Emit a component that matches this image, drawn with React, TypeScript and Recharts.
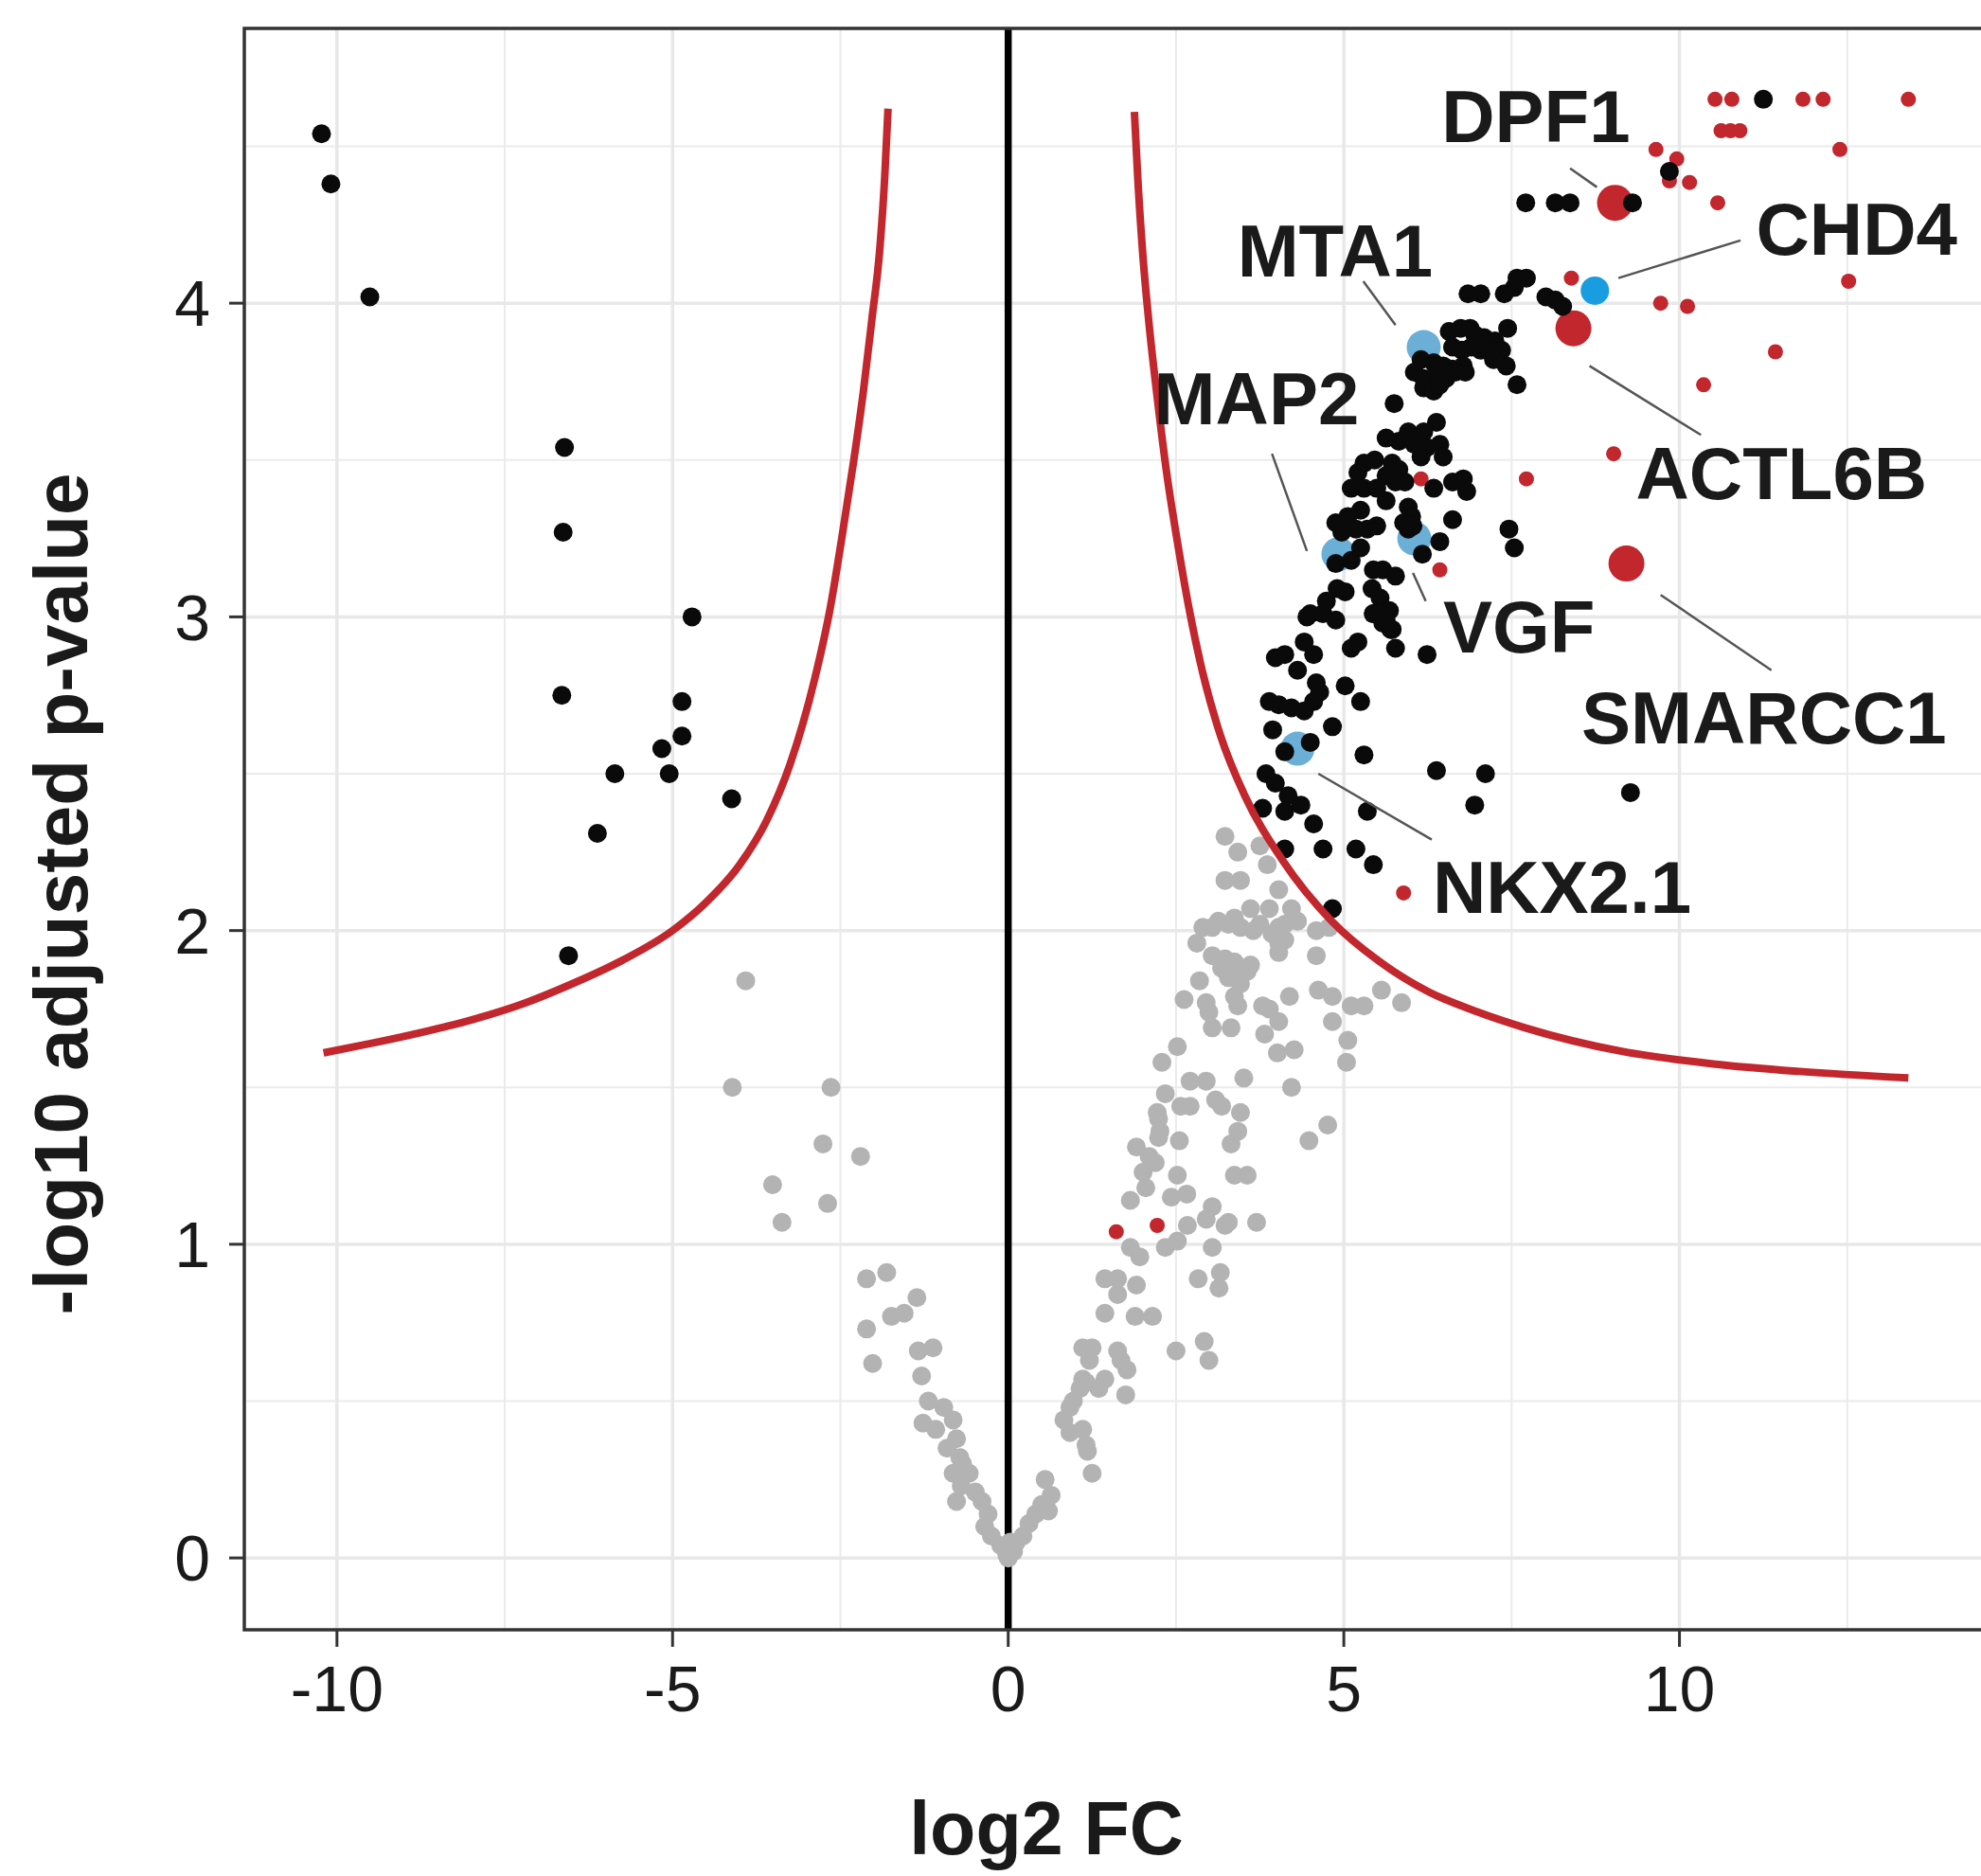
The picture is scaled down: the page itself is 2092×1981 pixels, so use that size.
import React from "react";
import {
  ComposedChart,
  Scatter,
  Line,
  XAxis,
  YAxis,
  ReferenceLine,
  ReferenceArea,
} from "recharts";

// Volcano plot: log2 FC x -log10 adjusted p-value, with the threshold curve
// and the labelled chromatin-remodelling genes.

const FONT = "'Liberation Sans', Arial, Helvetica, sans-serif";

const xTicks = [-10, -5, 0, 5, 10];
const yTicks = [0, 1, 2, 3, 4];
const gridMajorX = [-10, -5, 0, 5, 10];
const gridMinorX = [-7.5, -2.5, 2.5, 7.5, 12.5];
const gridMajorY = [0, 1, 2, 3, 4];
const gridMinorY = [0.5, 1.5, 2.5, 3.5, 4.5];

// not significant
const grayPts: [number, number][] = [
  [3.23, 2.3], [3.42, 2.25], [3.75, 2.27], [3.86, 2.21], [3.23, 2.16], [3.46, 2.16],
  [4.03, 2.13], [3.61, 2.07], [3.89, 2.07], [4.22, 2.07], [4.31, 2.03], [3.04, 2.01],
  [3.28, 2.02], [2.81, 1.96], [3.46, 2.01], [3.65, 2.0], [4.03, 2.01], [4.12, 1.97],
  [4.03, 1.93], [4.59, 2.0], [4.78, 2.01], [3.04, 1.92], [3.23, 1.91], [3.37, 1.9],
  [3.61, 1.89], [3.37, 1.86], [3.46, 1.83], [4.59, 1.92], [2.85, 1.84], [2.62, 1.78],
  [2.95, 1.77], [2.99, 1.74], [3.37, 1.79], [3.42, 1.76], [3.79, 1.76], [3.89, 1.75],
  [4.19, 1.79], [4.62, 1.81], [4.83, 1.79], [5.11, 1.76], [5.3, 1.76], [5.56, 1.81],
  [5.86, 1.77], [3.04, 1.69], [3.32, 1.69], [3.82, 1.67], [4.03, 1.71], [4.83, 1.71],
  [5.06, 1.65], [5.04, 1.58], [4.01, 1.61], [4.26, 1.62], [2.52, 1.63], [2.29, 1.58],
  [3.51, 1.53], [4.22, 1.5], [2.71, 1.52], [2.95, 1.52], [3.09, 1.46], [3.18, 1.44],
  [2.34, 1.48], [2.57, 1.44], [2.71, 1.44], [2.24, 1.4], [3.46, 1.42], [3.42, 1.36],
  [3.32, 1.32], [4.76, 1.38], [4.48, 1.33], [2.24, 1.34], [2.1, 1.28], [2.55, 1.33],
  [1.91, 1.31], [2.01, 1.23], [2.52, 1.22], [3.37, 1.22], [3.56, 1.22], [1.82, 1.14],
  [2.05, 1.18], [2.43, 1.15], [2.66, 1.16], [3.04, 1.12], [2.95, 1.08], [3.28, 1.07],
  [3.7, 1.07], [3.18, 1.88], [3.56, 1.87], [3.28, 1.85], [2.9, 2.01], [3.13, 2.03],
  [3.37, 2.04], [3.75, 2.02], [3.93, 1.99], [4.12, 2.02], [4.03, 1.96], [2.22, 1.42],
  [2.26, 1.36], [2.19, 1.26],
  [-2.11, 0.89], [-1.81, 0.91], [-1.36, 0.83], [-1.74, 0.77], [-1.55, 0.78], [-2.11, 0.73],
  [-2.02, 0.62], [-1.34, 0.66], [-1.12, 0.67], [-1.29, 0.58], [-1.19, 0.5], [-0.96, 0.48],
  [-0.82, 0.44], [-1.27, 0.43], [-1.08, 0.41], [-0.77, 0.38], [-0.91, 0.35], [-0.72, 0.32],
  [-0.68, 0.3], [-0.82, 0.27], [-0.58, 0.27], [-0.7, 0.23], [-0.77, 0.18], [-0.49, 0.21],
  [-0.39, 0.18], [-0.3, 0.14], [-0.35, 0.1], [-0.25, 0.07], [-0.11, 0.04], [-0.02, 0.01],
  [0.08, 0.02], [0.0, 0.0], [-0.05, 0.03], [0.03, 0.05],
  [0.12, 0.05], [0.22, 0.07], [0.31, 0.11], [0.41, 0.14], [0.5, 0.17], [0.55, 0.25],
  [0.64, 0.2], [0.6, 0.15],
  [0.83, 0.44], [0.92, 0.48], [0.97, 0.5], [1.07, 0.54], [1.11, 0.57], [1.16, 0.56],
  [1.44, 0.57], [1.35, 0.54], [0.92, 0.4], [1.11, 0.41], [1.16, 0.36], [1.18, 0.34],
  [1.25, 0.27], [1.11, 0.67], [1.25, 0.67], [1.21, 0.63], [1.63, 0.66], [1.68, 0.63],
  [1.77, 0.6], [1.75, 0.52], [1.44, 0.78], [1.44, 0.89], [1.63, 0.89], [1.63, 0.84],
  [1.91, 0.87], [1.89, 0.77], [2.15, 0.77], [2.5, 0.66], [2.92, 0.69], [2.99, 0.63],
  [2.83, 0.89], [3.16, 0.91], [3.14, 0.86], [3.04, 0.99], [1.82, 0.99], [1.96, 0.96],
  [2.34, 0.99], [2.52, 1.01], [2.67, 1.06], [3.23, 1.06],
  [-3.91, 1.84], [-4.11, 1.5], [-2.64, 1.5], [-2.76, 1.32], [-2.2, 1.28], [-3.51, 1.19],
  [-2.69, 1.13], [-3.37, 1.07],
];

// significant
const blackPts: [number, number][] = [
  [-10.23, 4.54], [-10.09, 4.38], [-9.51, 4.02], [-6.61, 3.54], [-6.63, 3.27], [-4.71, 3.0],
  [-6.65, 2.75], [-4.86, 2.73], [-4.86, 2.62], [-5.16, 2.58], [-5.86, 2.5], [-5.05, 2.5],
  [-4.12, 2.42], [-6.12, 2.31], [-6.55, 1.92],
  [11.25, 4.65], [9.85, 4.42], [9.3, 4.32], [7.71, 4.32], [8.15, 4.32], [8.37, 4.32],
  [7.58, 4.08], [7.72, 4.08], [6.85, 4.03], [7.04, 4.03], [7.39, 4.03], [7.54, 4.05],
  [8.01, 4.02], [8.15, 4.01], [8.26, 3.99], [6.57, 3.91], [6.74, 3.92], [6.88, 3.92],
  [6.95, 3.9], [7.09, 3.89], [7.25, 3.88], [7.44, 3.92], [7.35, 3.85], [7.42, 3.8],
  [7.58, 3.74], [6.62, 3.86], [6.76, 3.85], [6.9, 3.86], [7.04, 3.85], [7.16, 3.85],
  [7.23, 3.82], [6.15, 3.82], [6.34, 3.81], [6.48, 3.8], [6.62, 3.79], [6.78, 3.8],
  [6.81, 3.78], [6.05, 3.78], [6.19, 3.76], [6.38, 3.77], [6.52, 3.76], [6.66, 3.78],
  [6.19, 3.73], [6.34, 3.72], [6.43, 3.74], [5.75, 3.68], [6.38, 3.62], [5.96, 3.59],
  [6.19, 3.59], [5.63, 3.57], [5.82, 3.56], [6.05, 3.55], [6.24, 3.54], [6.43, 3.55],
  [6.48, 3.51], [6.15, 3.51], [5.3, 3.49], [5.46, 3.5], [5.72, 3.49], [5.82, 3.47],
  [5.63, 3.45], [5.77, 3.43], [5.91, 3.43], [5.21, 3.46], [5.11, 3.41], [5.3, 3.41],
  [5.49, 3.41], [5.63, 3.37], [5.96, 3.35], [6.01, 3.32], [5.89, 3.3], [6.03, 3.29],
  [6.34, 3.41], [6.62, 3.43], [6.78, 3.44], [6.83, 3.4], [6.62, 3.31], [6.43, 3.24],
  [6.17, 3.2], [7.46, 3.28], [7.54, 3.22], [4.88, 3.3], [5.06, 3.32], [5.25, 3.34],
  [4.97, 3.27], [5.18, 3.28], [5.35, 3.28], [5.49, 3.29], [4.88, 3.17], [5.11, 3.18],
  [5.25, 3.22], [5.96, 3.28], [5.44, 3.15], [5.58, 3.15], [5.77, 3.13], [4.5, 3.01],
  [4.74, 3.05], [4.9, 3.09], [5.02, 3.08], [5.42, 3.09], [5.54, 3.06], [5.68, 3.02],
  [5.44, 3.01], [5.58, 2.98], [5.7, 2.96],
  [4.45, 3.0], [4.69, 3.01], [4.88, 2.99], [5.44, 3.01], [5.63, 2.99], [5.72, 2.96],
  [5.21, 2.92], [5.11, 2.9], [5.77, 2.9], [6.24, 2.88], [3.98, 2.87], [4.12, 2.88],
  [4.41, 2.92], [4.55, 2.88], [4.31, 2.83], [4.59, 2.79], [4.64, 2.76], [4.55, 2.73],
  [3.89, 2.73], [4.03, 2.72], [4.22, 2.71], [4.41, 2.7], [5.02, 2.78], [5.25, 2.73],
  [3.94, 2.64], [4.83, 2.65], [4.12, 2.57], [4.5, 2.6], [5.3, 2.56], [6.38, 2.51],
  [7.11, 2.5], [6.95, 2.4], [3.84, 2.5], [3.98, 2.47], [4.17, 2.43], [4.36, 2.4],
  [3.79, 2.39], [4.12, 2.38], [5.35, 2.38], [4.55, 2.34], [4.12, 2.26], [4.69, 2.26],
  [5.18, 2.26], [5.44, 2.21], [4.83, 2.07], [9.27, 2.44],
];

// red: small and labelled (large)
const redPts: [number, number][] = [
  [10.53, 4.65], [10.78, 4.65], [11.84, 4.65], [12.14, 4.65], [13.41, 4.65], [10.62, 4.55],
  [10.76, 4.55], [10.9, 4.55], [9.65, 4.49], [12.39, 4.49], [9.96, 4.46], [9.85, 4.39],
  [10.15, 4.385], [10.57, 4.32], [8.39, 4.08], [12.52, 4.07], [9.72, 4.0], [10.12, 3.99],
  [11.43, 3.845], [10.36, 3.74], [9.02, 3.52], [7.72, 3.44], [6.15, 3.44], [6.43, 3.15],
  [5.89, 2.12], [1.61, 1.04], [2.22, 1.06],
];
const redBigPts: [number, number][] = [[9.04, 4.32], [8.42, 3.92], [9.21, 3.17]];
const bluePts: [number, number][] = [[8.74, 4.04]];
const lightBluePts: [number, number][] = [[6.19, 3.86], [4.92, 3.2], [6.05, 3.25], [4.31, 2.58]];

// threshold curve
const curveLeftX = [
  -10.2, -9.5, -8.75, -8.0, -7.25, -6.5, -5.75, -5.0, -4.5, -4.0, -3.6, -3.25, -2.885,
  -2.65, -2.48, -2.3, -2.157, -2.03, -1.914, -1.84, -1.79,
];
const curveLeftY = [
  1.61, 1.64, 1.675, 1.715, 1.765, 1.83, 1.905, 2.0, 2.09, 2.21, 2.35, 2.53, 2.8,
  3.03, 3.25, 3.5, 3.72, 3.95, 4.17, 4.4, 4.62,
];
const curveRightX = [
  1.88, 1.93, 2.0, 2.1, 2.22, 2.36, 2.52, 2.7, 2.9, 3.165, 3.525, 4.1, 4.82, 5.54, 6.26,
  7.0, 7.7, 9.14, 10.5, 11.79, 13.41,
];
const curveRightY = [
  4.61, 4.4, 4.17, 3.93, 3.7, 3.46, 3.24, 3.02, 2.82, 2.62, 2.43, 2.22, 2.03, 1.9, 1.805,
  1.74, 1.69, 1.615, 1.575, 1.551, 1.53,
];

// gene labels + leader lines
const geneNames = ["DPF1", "CHD4", "MTA1", "MAP2", "ACTL6B", "VGF", "SMARCC1", "NKX2.1"];
const geneLabelX = [7.86, 12.64, 4.87, 3.7, 11.52, 7.61, 11.26, 8.25];
const geneLabelY = [4.6, 4.24, 4.17, 3.7, 3.46, 2.97, 2.68, 2.14];
const leaderFrom: [number, number][] = [
  [8.37, 4.43], [10.91, 4.2], [5.29, 4.07], [3.93, 3.52], [8.66, 3.8], [6.03, 3.14], [9.72, 3.07], [4.62, 2.5],
];
const leaderTo: [number, number][] = [
  [8.77, 4.37], [9.09, 4.08], [5.77, 3.93], [4.45, 3.21], [10.32, 3.58], [6.22, 3.05], [11.37, 2.83], [6.31, 2.29],
];

const X_DOMAIN: [number, number] = [-11.38, 15];
const Y_DOMAIN: [number, number] = [-0.229, 4.876];

const toXY = (pts: [number, number][]) => pts.map(([x, y]) => ({ x, y }));
const curveLeft = curveLeftX.map((x, i) => ({ x, y: curveLeftY[i] }));
const curveRight = curveRightX.map((x, i) => ({ x, y: curveRightY[i] }));
const geneLabels = geneNames.map((name, i) => ({ x: geneLabelX[i], y: geneLabelY[i], name }));

const dot = (r: number, fill: string) => (p: any) => (
  <circle cx={p.cx} cy={p.cy} r={r} fill={fill} />
);

const labelShape = (p: any) => (
  <text
    x={p.cx}
    y={p.cy}
    dy="0.36em"
    textAnchor="middle"
    fontSize={78}
    fontWeight={700}
    fontFamily={FONT}
    fill="#1a1a1a"
  >
    {p.payload.name}
  </text>
);

const tick = { fontSize: 68, fill: "#1a1a1a", fontFamily: FONT };

export default function App() {
  return (
    <div
      style={{
        position: "fixed",
        left: 0,
        top: 0,
        width: 2092,
        height: 1981,
        overflow: "hidden",
        background: "#fff",
      }}
    >
      <ComposedChart width={2128} height={1981} margin={{ top: 30, right: 0, bottom: 160, left: 0 }}>
        <XAxis
          type="number"
          dataKey="x"
          domain={X_DOMAIN}
          allowDataOverflow
          ticks={xTicks}
          height={100}
          axisLine={false}
          tickSize={18}
          tickMargin={20}
          tickLine={{ stroke: "#333", strokeWidth: 3 }}
          tick={tick}
        />
        <YAxis
          type="number"
          dataKey="y"
          domain={Y_DOMAIN}
          allowDataOverflow
          ticks={yTicks}
          width={258}
          axisLine={false}
          tickSize={16}
          tickMargin={20}
          tickLine={{ stroke: "#333", strokeWidth: 3 }}
          tick={tick}
        />
        {gridMinorX.map((v) => (
          <ReferenceLine key={"mx" + v} x={v} stroke="#ebebeb" strokeWidth={2} zIndex={-100} />
        ))}
        {gridMinorY.map((v) => (
          <ReferenceLine key={"my" + v} y={v} stroke="#ebebeb" strokeWidth={2} zIndex={-100} />
        ))}
        {gridMajorX.map((v) => (
          <ReferenceLine key={"gx" + v} x={v} stroke="#e8e8e8" strokeWidth={3.5} zIndex={-100} />
        ))}
        {gridMajorY.map((v) => (
          <ReferenceLine key={"gy" + v} y={v} stroke="#e8e8e8" strokeWidth={3.5} zIndex={-100} />
        ))}
        <ReferenceLine x={0} stroke="#000" strokeWidth={7.5} zIndex={-50} />

        <Scatter data={toXY(grayPts)} shape={dot(10, "#b3b3b3")} isAnimationActive={false} />
        <Scatter data={toXY(redPts)} shape={dot(8, "#c1272d")} isAnimationActive={false} />
        <Scatter data={toXY(lightBluePts)} shape={dot(18, "#6baed6")} isAnimationActive={false} />
        <Scatter data={toXY(redBigPts)} shape={dot(19, "#c1272d")} isAnimationActive={false} />
        <Scatter data={toXY(bluePts)} shape={dot(15, "#1a9de0")} isAnimationActive={false} />
        <Scatter data={toXY(blackPts)} shape={dot(10, "#0a0a0a")} isAnimationActive={false} />

        <Line
          data={curveLeft}
          dataKey="y"
          type="monotone"
          stroke="#c1272d"
          strokeWidth={8}
          dot={false}
          activeDot={false}
          isAnimationActive={false}
          zIndex={700}
        />
        <Line
          data={curveRight}
          dataKey="y"
          type="monotone"
          stroke="#c1272d"
          strokeWidth={8}
          dot={false}
          activeDot={false}
          isAnimationActive={false}
          zIndex={700}
        />

        {leaderFrom.map((a, i) => (
          <ReferenceLine
            key={"ld" + i}
            segment={[{ x: a[0], y: a[1] }, { x: leaderTo[i][0], y: leaderTo[i][1] }]}
            stroke="#555"
            strokeWidth={2.5}
            zIndex={800}
          />
        ))}
        <Scatter data={geneLabels} shape={labelShape} isAnimationActive={false} zIndex={900} />

        <ReferenceArea
          x1={X_DOMAIN[0]}
          x2={X_DOMAIN[1]}
          y1={Y_DOMAIN[0]}
          y2={Y_DOMAIN[1]}
          fill="none"
          fillOpacity={0}
          stroke="#333"
          strokeWidth={3.5}
          zIndex={1000}
        />
      </ComposedChart>
      <svg
        width={2092}
        height={1981}
        style={{ position: "absolute", left: 0, top: 0, pointerEvents: "none" }}
      >
        <text
          x={1105}
          y={1958}
          textAnchor="middle"
          fontSize={79}
          fontWeight={700}
          fontFamily={FONT}
          fill="#1a1a1a"
        >
          log2 FC
        </text>
        <text
          transform="translate(92,944) rotate(-90)"
          textAnchor="middle"
          fontSize={80}
          fontWeight={700}
          fontFamily={FONT}
          fill="#1a1a1a"
        >
          -log10 adjusted p-value
        </text>
      </svg>
    </div>
  );
}
